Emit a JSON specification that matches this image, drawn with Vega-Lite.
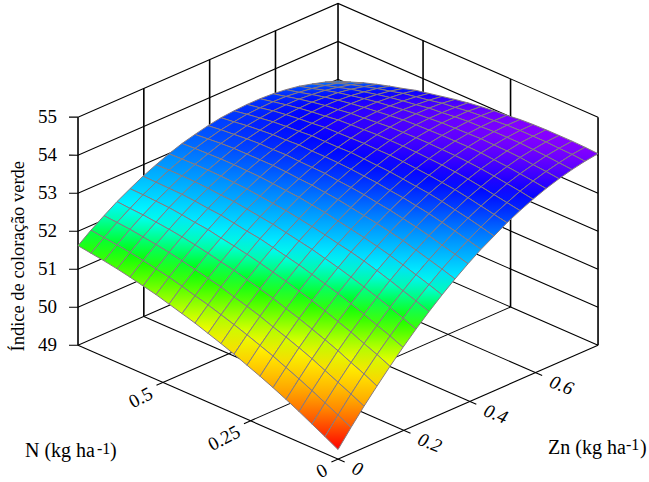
{"$schema":"https://vega.github.io/schema/vega-lite/v6.json","width":649,"height":482,"autosize":{"type":"fit","contains":"padding"},"padding":0,"background":"white","config":{"view":{"stroke":null},"text":{"font":"Liberation Serif","fill":"#000000"}},
"datasets":{
"grid":[
{"id":2020,"z":52.96},{"id":2019,"z":53.08},{"id":2018,"z":53.18},{"id":2017,"z":53.27},{"id":2016,"z":53.33},{"id":2015,"z":53.37},{"id":2014,"z":53.39},{"id":2013,"z":53.39},{"id":2012,"z":53.37},{"id":2011,"z":53.34},{"id":2010,"z":53.28},{"id":2009,"z":53.20},{"id":2008,"z":53.11},{"id":2007,"z":52.99},{"id":2006,"z":52.85},{"id":2005,"z":52.70},{"id":2004,"z":52.52},{"id":2003,"z":52.33},{"id":2002,"z":52.11},{"id":2001,"z":51.88},{"id":2000,"z":51.62},
{"id":1920,"z":53.08},{"id":1919,"z":53.20},{"id":1918,"z":53.29},{"id":1917,"z":53.36},{"id":1916,"z":53.41},{"id":1915,"z":53.45},{"id":1914,"z":53.46},{"id":1913,"z":53.45},{"id":1912,"z":53.43},{"id":1911,"z":53.38},{"id":1910,"z":53.32},{"id":1909,"z":53.23},{"id":1908,"z":53.13},{"id":1907,"z":53.00},{"id":1906,"z":52.86},{"id":1905,"z":52.69},{"id":1904,"z":52.51},{"id":1903,"z":52.30},{"id":1902,"z":52.08},{"id":1901,"z":51.83},{"id":1900,"z":51.57},
{"id":1820,"z":53.21},{"id":1819,"z":53.31},{"id":1818,"z":53.39},{"id":1817,"z":53.46},{"id":1816,"z":53.50},{"id":1815,"z":53.53},{"id":1814,"z":53.53},{"id":1813,"z":53.52},{"id":1812,"z":53.48},{"id":1811,"z":53.43},{"id":1810,"z":53.35},{"id":1809,"z":53.26},{"id":1808,"z":53.14},{"id":1807,"z":53.01},{"id":1806,"z":52.86},{"id":1805,"z":52.68},{"id":1804,"z":52.49},{"id":1803,"z":52.28},{"id":1802,"z":52.05},{"id":1801,"z":51.79},{"id":1800,"z":51.52},
{"id":1720,"z":53.32},{"id":1719,"z":53.41},{"id":1718,"z":53.49},{"id":1717,"z":53.55},{"id":1716,"z":53.58},{"id":1715,"z":53.60},{"id":1714,"z":53.59},{"id":1713,"z":53.57},{"id":1712,"z":53.53},{"id":1711,"z":53.46},{"id":1710,"z":53.38},{"id":1709,"z":53.28},{"id":1708,"z":53.15},{"id":1707,"z":53.01},{"id":1706,"z":52.85},{"id":1705,"z":52.67},{"id":1704,"z":52.47},{"id":1703,"z":52.24},{"id":1702,"z":52.00},{"id":1701,"z":51.74},{"id":1700,"z":51.46},
{"id":1620,"z":53.42},{"id":1619,"z":53.51},{"id":1618,"z":53.57},{"id":1617,"z":53.62},{"id":1616,"z":53.65},{"id":1615,"z":53.66},{"id":1614,"z":53.64},{"id":1613,"z":53.61},{"id":1612,"z":53.56},{"id":1611,"z":53.49},{"id":1610,"z":53.40},{"id":1609,"z":53.28},{"id":1608,"z":53.15},{"id":1607,"z":53.00},{"id":1606,"z":52.83},{"id":1605,"z":52.64},{"id":1604,"z":52.43},{"id":1603,"z":52.20},{"id":1602,"z":51.95},{"id":1601,"z":51.68},{"id":1600,"z":51.39},
{"id":1520,"z":53.51},{"id":1519,"z":53.59},{"id":1518,"z":53.65},{"id":1517,"z":53.69},{"id":1516,"z":53.71},{"id":1515,"z":53.70},{"id":1514,"z":53.68},{"id":1513,"z":53.64},{"id":1512,"z":53.58},{"id":1511,"z":53.50},{"id":1510,"z":53.40},{"id":1509,"z":53.28},{"id":1508,"z":53.14},{"id":1507,"z":52.98},{"id":1506,"z":52.80},{"id":1505,"z":52.60},{"id":1504,"z":52.38},{"id":1503,"z":52.15},{"id":1502,"z":51.89},{"id":1501,"z":51.61},{"id":1500,"z":51.31},
{"id":1420,"z":53.61},{"id":1419,"z":53.68},{"id":1418,"z":53.72},{"id":1417,"z":53.75},{"id":1416,"z":53.76},{"id":1415,"z":53.75},{"id":1414,"z":53.73},{"id":1413,"z":53.68},{"id":1412,"z":53.61},{"id":1411,"z":53.52},{"id":1410,"z":53.41},{"id":1409,"z":53.28},{"id":1408,"z":53.13},{"id":1407,"z":52.96},{"id":1406,"z":52.78},{"id":1405,"z":52.57},{"id":1404,"z":52.34},{"id":1403,"z":52.09},{"id":1402,"z":51.82},{"id":1401,"z":51.54},{"id":1400,"z":51.23},
{"id":1320,"z":53.68},{"id":1319,"z":53.74},{"id":1318,"z":53.78},{"id":1317,"z":53.80},{"id":1316,"z":53.80},{"id":1315,"z":53.78},{"id":1314,"z":53.75},{"id":1313,"z":53.69},{"id":1312,"z":53.61},{"id":1311,"z":53.51},{"id":1310,"z":53.39},{"id":1309,"z":53.26},{"id":1308,"z":53.10},{"id":1307,"z":52.92},{"id":1306,"z":52.73},{"id":1305,"z":52.51},{"id":1304,"z":52.27},{"id":1303,"z":52.02},{"id":1302,"z":51.74},{"id":1301,"z":51.45},{"id":1300,"z":51.13},
{"id":1220,"z":53.75},{"id":1219,"z":53.80},{"id":1218,"z":53.83},{"id":1217,"z":53.85},{"id":1216,"z":53.84},{"id":1215,"z":53.81},{"id":1214,"z":53.77},{"id":1213,"z":53.70},{"id":1212,"z":53.61},{"id":1211,"z":53.51},{"id":1210,"z":53.38},{"id":1209,"z":53.23},{"id":1208,"z":53.07},{"id":1207,"z":52.88},{"id":1206,"z":52.68},{"id":1205,"z":52.45},{"id":1204,"z":52.21},{"id":1203,"z":51.94},{"id":1202,"z":51.66},{"id":1201,"z":51.35},{"id":1200,"z":51.03},
{"id":1120,"z":53.82},{"id":1119,"z":53.87},{"id":1118,"z":53.89},{"id":1117,"z":53.89},{"id":1116,"z":53.88},{"id":1115,"z":53.84},{"id":1114,"z":53.79},{"id":1113,"z":53.71},{"id":1112,"z":53.62},{"id":1111,"z":53.50},{"id":1110,"z":53.37},{"id":1109,"z":53.21},{"id":1108,"z":53.04},{"id":1107,"z":52.84},{"id":1106,"z":52.63},{"id":1105,"z":52.40},{"id":1104,"z":52.14},{"id":1103,"z":51.87},{"id":1102,"z":51.58},{"id":1101,"z":51.26},{"id":1100,"z":50.93},
{"id":1020,"z":53.88},{"id":1019,"z":53.91},{"id":1018,"z":53.92},{"id":1017,"z":53.92},{"id":1016,"z":53.90},{"id":1015,"z":53.85},{"id":1014,"z":53.79},{"id":1013,"z":53.70},{"id":1012,"z":53.60},{"id":1011,"z":53.48},{"id":1010,"z":53.33},{"id":1009,"z":53.17},{"id":1008,"z":52.99},{"id":1007,"z":52.78},{"id":1006,"z":52.56},{"id":1005,"z":52.32},{"id":1004,"z":52.06},{"id":1003,"z":51.77},{"id":1002,"z":51.47},{"id":1001,"z":51.15},{"id":1000,"z":50.81},
{"id":920,"z":53.93},{"id":919,"z":53.96},{"id":918,"z":53.96},{"id":917,"z":53.95},{"id":916,"z":53.91},{"id":915,"z":53.86},{"id":914,"z":53.79},{"id":913,"z":53.70},{"id":912,"z":53.58},{"id":911,"z":53.45},{"id":910,"z":53.30},{"id":909,"z":53.13},{"id":908,"z":52.94},{"id":907,"z":52.72},{"id":906,"z":52.49},{"id":905,"z":52.24},{"id":904,"z":51.97},{"id":903,"z":51.68},{"id":902,"z":51.37},{"id":901,"z":51.04},{"id":900,"z":50.69},
{"id":820,"z":53.97},{"id":819,"z":53.99},{"id":818,"z":53.99},{"id":817,"z":53.96},{"id":816,"z":53.92},{"id":815,"z":53.86},{"id":814,"z":53.78},{"id":813,"z":53.68},{"id":812,"z":53.56},{"id":811,"z":53.42},{"id":810,"z":53.26},{"id":809,"z":53.07},{"id":808,"z":52.87},{"id":807,"z":52.65},{"id":806,"z":52.42},{"id":805,"z":52.16},{"id":804,"z":51.88},{"id":803,"z":51.58},{"id":802,"z":51.26},{"id":801,"z":50.92},{"id":800,"z":50.56},
{"id":720,"z":54.00},{"id":719,"z":54.01},{"id":718,"z":54.00},{"id":717,"z":53.97},{"id":716,"z":53.92},{"id":715,"z":53.85},{"id":714,"z":53.76},{"id":713,"z":53.65},{"id":712,"z":53.52},{"id":711,"z":53.37},{"id":710,"z":53.20},{"id":709,"z":53.01},{"id":708,"z":52.80},{"id":707,"z":52.57},{"id":706,"z":52.33},{"id":705,"z":52.06},{"id":704,"z":51.77},{"id":703,"z":51.46},{"id":702,"z":51.13},{"id":701,"z":50.79},{"id":700,"z":50.42},
{"id":620,"z":54.04},{"id":619,"z":54.04},{"id":618,"z":54.02},{"id":617,"z":53.98},{"id":616,"z":53.92},{"id":615,"z":53.84},{"id":614,"z":53.74},{"id":613,"z":53.62},{"id":612,"z":53.48},{"id":611,"z":53.33},{"id":610,"z":53.15},{"id":609,"z":52.95},{"id":608,"z":52.73},{"id":607,"z":52.50},{"id":606,"z":52.24},{"id":605,"z":51.96},{"id":604,"z":51.67},{"id":603,"z":51.35},{"id":602,"z":51.01},{"id":601,"z":50.66},{"id":600,"z":50.28},
{"id":520,"z":54.06},{"id":519,"z":54.05},{"id":518,"z":54.02},{"id":517,"z":53.97},{"id":516,"z":53.91},{"id":515,"z":53.82},{"id":514,"z":53.71},{"id":513,"z":53.58},{"id":512,"z":53.44},{"id":511,"z":53.27},{"id":510,"z":53.08},{"id":509,"z":52.88},{"id":508,"z":52.65},{"id":507,"z":52.41},{"id":506,"z":52.14},{"id":505,"z":51.86},{"id":504,"z":51.55},{"id":503,"z":51.22},{"id":502,"z":50.88},{"id":501,"z":50.51},{"id":500,"z":50.13},
{"id":420,"z":54.07},{"id":419,"z":54.05},{"id":418,"z":54.02},{"id":417,"z":53.96},{"id":416,"z":53.88},{"id":415,"z":53.79},{"id":414,"z":53.67},{"id":413,"z":53.54},{"id":412,"z":53.38},{"id":411,"z":53.21},{"id":410,"z":53.01},{"id":409,"z":52.80},{"id":408,"z":52.56},{"id":407,"z":52.31},{"id":406,"z":52.03},{"id":405,"z":51.74},{"id":404,"z":51.42},{"id":403,"z":51.09},{"id":402,"z":50.74},{"id":401,"z":50.36},{"id":400,"z":49.97},
{"id":320,"z":54.07},{"id":319,"z":54.05},{"id":318,"z":54.00},{"id":317,"z":53.94},{"id":316,"z":53.85},{"id":315,"z":53.75},{"id":314,"z":53.62},{"id":313,"z":53.48},{"id":312,"z":53.31},{"id":311,"z":53.13},{"id":310,"z":52.93},{"id":309,"z":52.70},{"id":308,"z":52.46},{"id":307,"z":52.20},{"id":306,"z":51.91},{"id":305,"z":51.61},{"id":304,"z":51.29},{"id":303,"z":50.95},{"id":302,"z":50.58},{"id":301,"z":50.20},{"id":300,"z":49.80},
{"id":220,"z":54.07},{"id":219,"z":54.03},{"id":218,"z":53.98},{"id":217,"z":53.90},{"id":216,"z":53.81},{"id":215,"z":53.70},{"id":214,"z":53.56},{"id":213,"z":53.41},{"id":212,"z":53.24},{"id":211,"z":53.05},{"id":210,"z":52.83},{"id":209,"z":52.60},{"id":208,"z":52.35},{"id":207,"z":52.08},{"id":206,"z":51.79},{"id":205,"z":51.47},{"id":204,"z":51.14},{"id":203,"z":50.79},{"id":202,"z":50.42},{"id":201,"z":50.03},{"id":200,"z":49.62},
{"id":120,"z":54.06},{"id":119,"z":54.02},{"id":118,"z":53.95},{"id":117,"z":53.87},{"id":116,"z":53.77},{"id":115,"z":53.65},{"id":114,"z":53.50},{"id":113,"z":53.34},{"id":112,"z":53.16},{"id":111,"z":52.96},{"id":110,"z":52.74},{"id":109,"z":52.50},{"id":108,"z":52.24},{"id":107,"z":51.96},{"id":106,"z":51.66},{"id":105,"z":51.34},{"id":104,"z":51.00},{"id":103,"z":50.64},{"id":102,"z":50.26},{"id":101,"z":49.86},{"id":100,"z":49.44},
{"id":20,"z":54.04},{"id":19,"z":53.99},{"id":18,"z":53.92},{"id":17,"z":53.83},{"id":16,"z":53.72},{"id":15,"z":53.59},{"id":14,"z":53.44},{"id":13,"z":53.27},{"id":12,"z":53.07},{"id":11,"z":52.87},{"id":10,"z":52.64},{"id":9,"z":52.39},{"id":8,"z":52.12},{"id":7,"z":51.83},{"id":6,"z":51.52},{"id":5,"z":51.19},{"id":4,"z":50.84},{"id":3,"z":50.47},{"id":2,"z":50.09},{"id":1,"z":49.68},{"id":0,"z":49.25}
],
"thin":[
{"g":"w49","N":0.7559,"Zn":-0.0137,"z":49},{"g":"w49","N":0.743,"Zn":0,"z":49},{"g":"w49","N":0.743,"Zn":0.79,"z":49},{"g":"w49","N":0,"Zn":0.79,"z":49},
{"g":"w50","N":0.7559,"Zn":-0.0137,"z":50},{"g":"w50","N":0.743,"Zn":0,"z":50},{"g":"w50","N":0.743,"Zn":0.79,"z":50},{"g":"w50","N":0,"Zn":0.79,"z":50},
{"g":"w51","N":0.7559,"Zn":-0.0137,"z":51},{"g":"w51","N":0.743,"Zn":0,"z":51},{"g":"w51","N":0.743,"Zn":0.79,"z":51},{"g":"w51","N":0,"Zn":0.79,"z":51},
{"g":"w52","N":0.7559,"Zn":-0.0137,"z":52},{"g":"w52","N":0.743,"Zn":0,"z":52},{"g":"w52","N":0.743,"Zn":0.79,"z":52},{"g":"w52","N":0,"Zn":0.79,"z":52},
{"g":"w53","N":0.7559,"Zn":-0.0137,"z":53},{"g":"w53","N":0.743,"Zn":0,"z":53},{"g":"w53","N":0.743,"Zn":0.79,"z":53},{"g":"w53","N":0,"Zn":0.79,"z":53},
{"g":"w54","N":0.7559,"Zn":-0.0137,"z":54},{"g":"w54","N":0.743,"Zn":0,"z":54},{"g":"w54","N":0.743,"Zn":0.79,"z":54},{"g":"w54","N":0,"Zn":0.79,"z":54},
{"g":"w55","N":0.7559,"Zn":-0.0137,"z":55},{"g":"w55","N":0.743,"Zn":0,"z":55},{"g":"w55","N":0.743,"Zn":0.79,"z":55},{"g":"w55","N":0,"Zn":0.79,"z":55},
{"g":"a0","N":-0.019,"Zn":0,"z":49},{"g":"a0","N":0.743,"Zn":0,"z":49},
{"g":"a2","N":-0.019,"Zn":0.2,"z":49},{"g":"a2","N":0.743,"Zn":0.2,"z":49},
{"g":"a4","N":-0.019,"Zn":0.4,"z":49},{"g":"a4","N":0.743,"Zn":0.4,"z":49},
{"g":"a6","N":-0.019,"Zn":0.6,"z":49},{"g":"a6","N":0.743,"Zn":0.6,"z":49},
{"g":"b0","N":0,"Zn":-0.02,"z":49},{"g":"b0","N":0,"Zn":0.79,"z":49},
{"g":"b25","N":0.25,"Zn":-0.02,"z":49},{"g":"b25","N":0.25,"Zn":0.79,"z":49},
{"g":"b5","N":0.5,"Zn":-0.02,"z":49},{"g":"b5","N":0.5,"Zn":0.79,"z":49}
],
"posts":[
{"g":"p1","N":0.743,"Zn":0,"z":49},{"g":"p1","N":0.743,"Zn":0,"z":55},
{"g":"p2","N":0.743,"Zn":0.2,"z":49},{"g":"p2","N":0.743,"Zn":0.2,"z":55},
{"g":"p3","N":0.743,"Zn":0.4,"z":49},{"g":"p3","N":0.743,"Zn":0.4,"z":55},
{"g":"p4","N":0.743,"Zn":0.6,"z":49},{"g":"p4","N":0.743,"Zn":0.6,"z":55},
{"g":"p5","N":0.743,"Zn":0.79,"z":49},{"g":"p5","N":0.743,"Zn":0.79,"z":55},
{"g":"p6","N":0.5,"Zn":0.79,"z":49},{"g":"p6","N":0.5,"Zn":0.79,"z":55},
{"g":"p7","N":0.25,"Zn":0.79,"z":49},{"g":"p7","N":0.25,"Zn":0.79,"z":55},
{"g":"p8","N":0,"Zn":0.79,"z":49},{"g":"p8","N":0,"Zn":0.79,"z":55}
]
},
"encoding":{"x":{"field":"h","type":"quantitative","scale":{"domain":[-1.3,1.196],"nice":false,"zero":false},"axis":null},"y":{"field":"v","type":"quantitative","scale":{"domain":[-0.193,4.035],"nice":false,"zero":false},"axis":null}},
"layer":[
{"data":{"name":"thin"},"transform":[{"calculate":"datum.Zn/0.79-datum.N/0.743","as":"h"},{"calculate":"datum.Zn/0.79+datum.N/0.743+(datum.z-49)*0.3342","as":"v"}],"mark":{"type":"line","stroke":"#000000","strokeWidth":1.1,"clip":false},"encoding":{"detail":{"field":"g"}}},
{"data":{"name":"posts"},"transform":[{"calculate":"datum.Zn/0.79-datum.N/0.743","as":"h"},{"calculate":"datum.Zn/0.79+datum.N/0.743+(datum.z-49)*0.3342","as":"v"}],"mark":{"type":"line","stroke":"#000000","strokeWidth":1.6,"clip":false},"encoding":{"detail":{"field":"g"}}},
{"data":{"name":"grid"},"transform":[
{"calculate":"floor(datum.id/100)","as":"i"},{"calculate":"datum.id%100","as":"j"},
{"filter":"datum.i<20&&datum.j<20"},
{"calculate":"datum.id+101","as":"topid"},
{"lookup":"topid","from":{"data":{"name":"grid"},"key":"id","fields":["z"]},"as":["ztop"]},
{"calculate":"datum.z<49.96?34*(datum.z-49.25)/0.71:datum.z<50.85?34+26*(datum.z-49.96)/0.89:datum.z<51.72?60+60*(datum.z-50.85)/0.87:datum.z<52.28?120+60*(datum.z-51.72)/0.56:datum.z<53.05?180+30*(datum.z-52.28)/0.77:datum.z<53.62?210+30*(datum.z-53.05)/0.57:240+32*(datum.z-53.62)/0.45","as":"hb"},
{"calculate":"datum.ztop<49.96?34*(datum.ztop-49.25)/0.71:datum.ztop<50.85?34+26*(datum.ztop-49.96)/0.89:datum.ztop<51.72?60+60*(datum.ztop-50.85)/0.87:datum.ztop<52.28?120+60*(datum.ztop-51.72)/0.56:datum.ztop<53.05?180+30*(datum.ztop-52.28)/0.77:datum.ztop<53.62?210+30*(datum.ztop-53.05)/0.57:240+32*(datum.ztop-53.62)/0.45","as":"ht"},
{"calculate":"{gradient:'linear',x1:0,y1:0,x2:0,y2:1,stops:[{offset:0,color:'hsl('+datum.ht+',100%,50%)'},{offset:1,color:'hsl('+datum.hb+',100%,50%)'}]}","as":"grad"},
{"calculate":"[0,1,2,3,4]","as":"corner"},{"flatten":["corner"]},
{"calculate":"(datum.i+((datum.corner==1||datum.corner==2)?1:0))","as":"ci"},
{"calculate":"(datum.j+((datum.corner==2||datum.corner==3)?1:0))","as":"cj"},
{"calculate":"datum.ci*100+datum.cj","as":"cid"},
{"lookup":"cid","from":{"data":{"name":"grid"},"key":"id","fields":["z"]},"as":["cz"]},
{"calculate":"(datum.cj-datum.ci)/20","as":"h"},
{"calculate":"(datum.ci+datum.cj)/20+(datum.cz-49)*0.3342","as":"v"}
],
"mark":{"type":"line","filled":true,"stroke":"#857a80","strokeWidth":1,"strokeJoin":"miter","clip":false},
"encoding":{"detail":{"field":"id"},"order":{"field":"corner"},"fill":{"field":"grad","type":"nominal","legend":null,"scale":null}}},
{"data":{"values":[{"t":"49","N":0.743,"Zn":0,"z":49},{"t":"50","N":0.743,"Zn":0,"z":50},{"t":"51","N":0.743,"Zn":0,"z":51},{"t":"52","N":0.743,"Zn":0,"z":52},{"t":"53","N":0.743,"Zn":0,"z":53},{"t":"54","N":0.743,"Zn":0,"z":54},{"t":"55","N":0.743,"Zn":0,"z":55}]},"transform":[{"calculate":"datum.Zn/0.79-datum.N/0.743","as":"h"},{"calculate":"datum.Zn/0.79+datum.N/0.743+(datum.z-49)*0.3342","as":"v"}],"mark":{"type":"text","align":"right","baseline":"middle","dx":-21,"fontSize":19},"encoding":{"text":{"field":"t"}}},
{"data":{"values":[{"t":"0","N":0,"Zn":0,"z":49},{"t":"0.25","N":0.25,"Zn":0,"z":49},{"t":"0.5","N":0.5,"Zn":0,"z":49}]},"transform":[{"calculate":"datum.Zn/0.79-datum.N/0.743","as":"h"},{"calculate":"datum.Zn/0.79+datum.N/0.743+(datum.z-49)*0.3342","as":"v"}],"mark":{"type":"text","align":"right","baseline":"middle","angle":-28,"dx":-15,"dy":3,"fontSize":19},"encoding":{"text":{"field":"t"}}},
{"data":{"values":[{"t":"0","N":0,"Zn":0,"z":49},{"t":"0.2","N":0,"Zn":0.2,"z":49},{"t":"0.4","N":0,"Zn":0.4,"z":49},{"t":"0.6","N":0,"Zn":0.6,"z":49}]},"transform":[{"calculate":"datum.Zn/0.79-datum.N/0.743","as":"h"},{"calculate":"datum.Zn/0.79+datum.N/0.743+(datum.z-49)*0.3342","as":"v"}],"mark":{"type":"text","align":"left","baseline":"middle","angle":22,"dx":17,"dy":2,"fontSize":19,"fontStyle":"italic"},"encoding":{"text":{"field":"t"}}},
{"data":{"values":[{"t":"Índice de coloração verde","N":0.743,"Zn":0,"z":52}]},"transform":[{"calculate":"datum.Zn/0.79-datum.N/0.743","as":"h"},{"calculate":"datum.Zn/0.79+datum.N/0.743+(datum.z-49)*0.3342","as":"v"}],"mark":{"type":"text","align":"center","baseline":"middle","angle":-90,"dx":-25,"dy":-60,"fontSize":18.5},"encoding":{"text":{"field":"t"}}},
{"data":{"values":[{"t":"N (kg ha","N":0.743,"Zn":0,"z":49}]},"transform":[{"calculate":"datum.Zn/0.79-datum.N/0.743","as":"h"},{"calculate":"datum.Zn/0.79+datum.N/0.743+(datum.z-49)*0.3342","as":"v"}],"mark":{"type":"text","align":"left","baseline":"middle","dx":-53,"dy":106,"fontSize":20},"encoding":{"text":{"field":"t"}}},
{"data":{"values":[{"t":"-1","N":0.743,"Zn":0,"z":49}]},"transform":[{"calculate":"datum.Zn/0.79-datum.N/0.743","as":"h"},{"calculate":"datum.Zn/0.79+datum.N/0.743+(datum.z-49)*0.3342","as":"v"}],"mark":{"type":"text","align":"left","baseline":"middle","dx":19,"dy":104,"fontSize":16},"encoding":{"text":{"field":"t"}}},
{"data":{"values":[{"t":")","N":0.743,"Zn":0,"z":49}]},"transform":[{"calculate":"datum.Zn/0.79-datum.N/0.743","as":"h"},{"calculate":"datum.Zn/0.79+datum.N/0.743+(datum.z-49)*0.3342","as":"v"}],"mark":{"type":"text","align":"left","baseline":"middle","dx":32,"dy":106,"fontSize":20},"encoding":{"text":{"field":"t"}}},
{"data":{"values":[{"t":"Zn (kg ha","N":0,"Zn":0.79,"z":49}]},"transform":[{"calculate":"datum.Zn/0.79-datum.N/0.743","as":"h"},{"calculate":"datum.Zn/0.79+datum.N/0.743+(datum.z-49)*0.3342","as":"v"}],"mark":{"type":"text","align":"left","baseline":"middle","dx":-50,"dy":103,"fontSize":20},"encoding":{"text":{"field":"t"}}},
{"data":{"values":[{"t":"-1","N":0,"Zn":0.79,"z":49}]},"transform":[{"calculate":"datum.Zn/0.79-datum.N/0.743","as":"h"},{"calculate":"datum.Zn/0.79+datum.N/0.743+(datum.z-49)*0.3342","as":"v"}],"mark":{"type":"text","align":"left","baseline":"middle","dx":28,"dy":100,"fontSize":16},"encoding":{"text":{"field":"t"}}},
{"data":{"values":[{"t":")","N":0,"Zn":0.79,"z":49}]},"transform":[{"calculate":"datum.Zn/0.79-datum.N/0.743","as":"h"},{"calculate":"datum.Zn/0.79+datum.N/0.743+(datum.z-49)*0.3342","as":"v"}],"mark":{"type":"text","align":"left","baseline":"middle","dx":42,"dy":103,"fontSize":20},"encoding":{"text":{"field":"t"}}}
]}
